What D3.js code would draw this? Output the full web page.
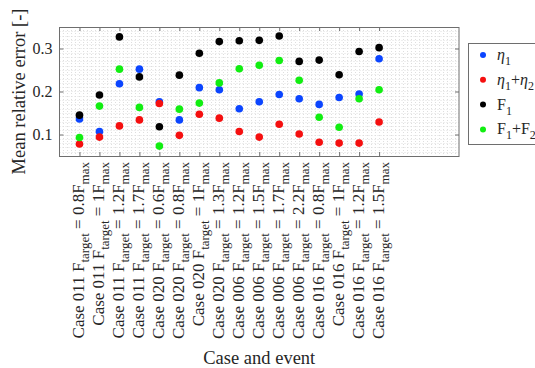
<!DOCTYPE html>
<html>
<head>
<meta charset="utf-8">
<script src="https://cdn.jsdelivr.net/npm/d3@7"></script>
<style>
  body { margin: 0; background: #fff; }
  svg { display: block; font-family: "Liberation Serif", "Times New Roman", serif; }
</style>
</head>
<body>
<div id="chart"></div>
<script>
(function(){

  // cases and target forces per event
  var cases   = ['011','011','011','011','020','020','020','020','006','006','006','006','016','016','016','016'];
  var targets = ['0.8','1','1.2','1.7','0.6','0.8','1','1.3','1.2','1.5','1.7','2.2','0.8','1','1.2','1.5'];

  // mean relative errors per series
  var eta1  = [0.136,0.107,0.218,0.252,0.176,0.134,0.209,0.204,0.160,0.176,0.193,0.183,0.170,0.186,0.194,0.276];
  var eta12 = [0.078,0.094,0.120,0.134,0.172,0.098,0.147,0.138,0.107,0.094,0.124,0.101,0.082,0.080,0.080,0.129];
  var f1    = [0.145,0.192,0.327,0.234,0.118,0.238,0.289,0.316,0.318,0.319,0.329,0.270,0.273,0.239,0.293,0.302];
  var f12   = [0.093,0.166,0.252,0.163,0.073,0.159,0.173,0.220,0.253,0.261,0.272,0.226,0.140,0.117,0.183,0.204];

  var yTicks = [0.1, 0.2, 0.3];

  var series = [
    { name: [['η', 'i'], ['1', 's']],                         color: '#0b45ff', values: eta1 },
    { name: [['η', 'i'], ['1', 's'], ['+', ''], ['η', 'i'], ['2', 's']], color: '#f50f0f', values: eta12 },
    { name: [['F', ''], ['1', 's']],                          color: '#000000', values: f1 },
    { name: [['F', ''], ['1', 's'], ['+', ''], ['F', ''], ['2', 's']],   color: '#11ee11', values: f12 }
  ];

  var W = 535, H = 368;
  var left = 59.5, right = 459, top = 27, bottom = 156;

  var x = d3.scaleLinear().domain([0, 20]).range([left, right]);
  var y = d3.scaleLinear().domain([0.05, 0.35]).range([bottom, top]);

  var svg = d3.select('#chart').append('svg')
    .attr('width', W).attr('height', H);

  // minor dotted grid
  var grid = svg.append('g').attr('class', 'grid')
    .attr('stroke', '#dedede').attr('stroke-width', 1).attr('stroke-dasharray', '1 2');

  grid.selectAll('line.h')
    .data(d3.range(6, 35).map(function(d){ return d / 100; }))
    .enter().append('line')
      .attr('x1', left).attr('x2', right)
      .attr('y1', function(d){ return Math.round(y(d)) + 0.5; })
      .attr('y2', function(d){ return Math.round(y(d)) + 0.5; });

  grid.selectAll('line.v')
    .data(d3.range(1, 100).map(function(d){ return d / 5; }))
    .enter().append('line')
      .attr('y1', top).attr('y2', bottom)
      .attr('x1', function(d){ return Math.round(x(d)) + 0.5; })
      .attr('x2', function(d){ return Math.round(x(d)) + 0.5; });

  // axes box with inward ticks
  var axisColor = '#6e6e6e';
  var idx = d3.range(1, cases.length + 1);

  function addAxis(gen, tx, ty) {
    var g = svg.append('g')
      .attr('transform', 'translate(' + tx + ',' + ty + ')')
      .call(gen);
    g.select('.domain').remove();
    g.selectAll('line').attr('stroke', axisColor);
    g.selectAll('text').remove();
    return g;
  }

  addAxis(d3.axisBottom(x).tickValues(idx).tickSizeInner(-4).tickSizeOuter(0), 0, bottom);
  addAxis(d3.axisTop(x).tickValues(idx).tickSizeInner(-4).tickSizeOuter(0), 0, top);
  addAxis(d3.axisLeft(y).tickValues(yTicks).tickSizeInner(-4).tickSizeOuter(0), left, 0);
  addAxis(d3.axisRight(y).tickValues(yTicks).tickSizeInner(-4).tickSizeOuter(0), right, 0);

  svg.append('rect')
    .attr('x', left).attr('y', top + 0.5)
    .attr('width', right - left).attr('height', bottom - top)
    .attr('fill', 'none').attr('stroke', axisColor).attr('stroke-width', 1);

  // y tick labels
  svg.append('g').selectAll('text')
    .data(yTicks)
    .enter().append('text')
      .attr('x', left - 7)
      .attr('y', function(d){ return y(d) + 5.5; })
      .attr('text-anchor', 'end')
      .attr('font-size', 16)
      .attr('fill', '#262626')
      .text(function(d){ return d3.format('.1f')(d); });

  // rotated x tick labels with subscripts
  var xl = svg.append('g').selectAll('text')
    .data(idx)
    .enter().append('text')
      .attr('transform', function(d){ return 'translate(' + x(d) + ',162) rotate(-90)'; })
      .attr('y', 5)
      .attr('text-anchor', 'end')
      .attr('font-size', 17)
      .attr('fill', '#262626');

  xl.each(function(d, i){
    var t = d3.select(this);
    t.append('tspan').text('Case ' + cases[i] + ' F');
    t.append('tspan').attr('dy', 5).attr('font-size', 13).text('target');
    t.append('tspan').attr('dy', -5).text(' = ' + targets[i] + 'F');
    t.append('tspan').attr('dy', 5).attr('font-size', 13).text('max');
  });

  // axis titles
  svg.append('text')
    .attr('transform', 'translate(25,' + ((top + bottom) / 2) + ') rotate(-90)')
    .attr('text-anchor', 'middle')
    .attr('font-size', 18.5)
    .attr('fill', '#262626')
    .text('Mean relative error [-]');

  svg.append('text')
    .attr('x', (left + right) / 2)
    .attr('y', 364)
    .attr('text-anchor', 'middle')
    .attr('font-size', 18.5)
    .attr('fill', '#262626')
    .text('Case and event');

  // points
  series.forEach(function(s){
    svg.append('g').selectAll('circle')
      .data(s.values)
      .enter().append('circle')
        .attr('cx', function(d, i){ return x(i + 1); })
        .attr('cy', function(d){ return y(d); })
        .attr('r', 3.8)
        .attr('fill', s.color);
  });

  // legend
  var legend = svg.append('g');
  legend.append('rect')
    .attr('x', 468.5).attr('y', 43.5)
    .attr('width', 80).attr('height', 101)
    .attr('fill', '#fff').attr('stroke', axisColor);

  var items = legend.selectAll('g.item')
    .data(series)
    .enter().append('g')
      .attr('transform', function(d, i){ return 'translate(0,' + (55 + i * 24.8) + ')'; });

  items.append('circle')
    .attr('cx', 483).attr('cy', 0).attr('r', 3)
    .attr('fill', function(d){ return d.color; });

  items.append('text')
    .attr('x', 497).attr('y', 5)
    .attr('font-size', 16)
    .attr('fill', '#262626')
    .each(function(d){
      var t = d3.select(this);
      var sub = false;
      d.name.forEach(function(p){
        var ts = t.append('tspan').text(p[0]);
        if (p[1] === 'i') ts.attr('font-style', 'italic');
        if (p[1] === 's') { ts.attr('font-size', 12).attr('dy', 5); sub = true; }
        else if (sub) { ts.attr('dy', -5); sub = false; }
      });
    });

})();
</script>
</body>
</html>
